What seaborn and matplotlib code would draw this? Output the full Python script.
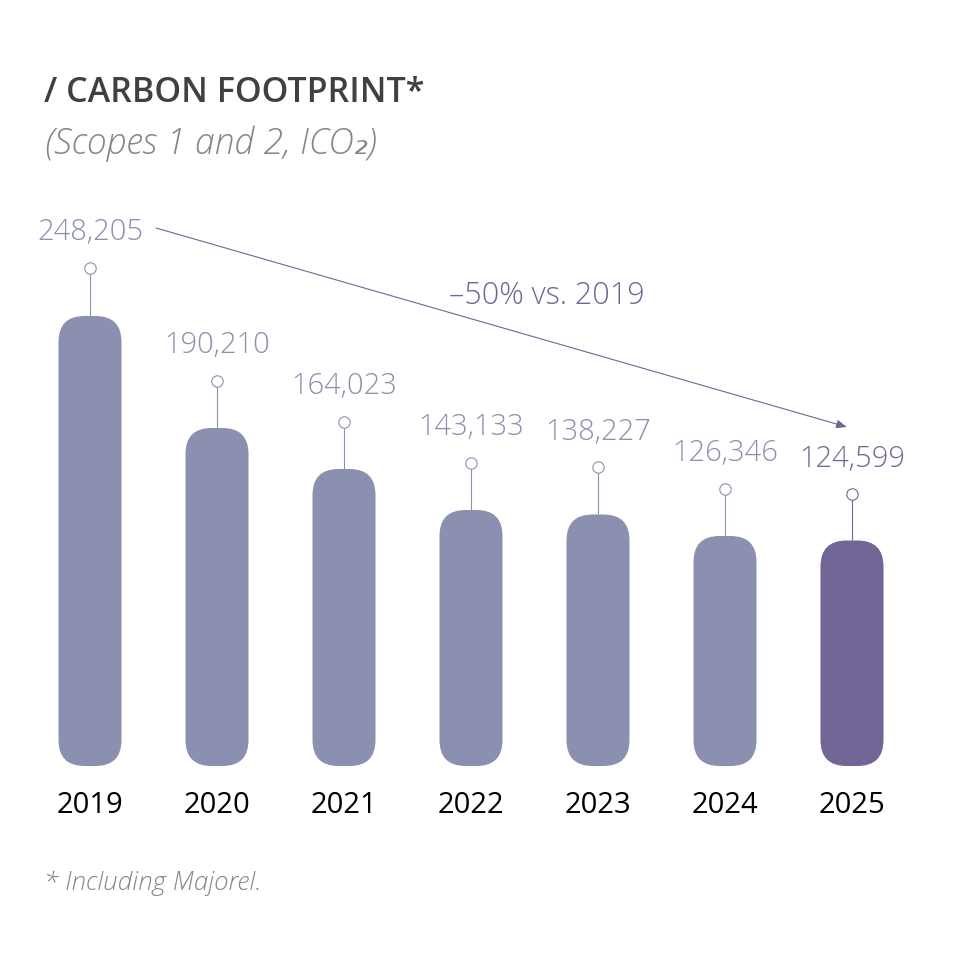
import matplotlib
matplotlib.use("Agg")
import matplotlib.pyplot as plt
import pandas as pd
import seaborn as sns
from matplotlib.patches import FancyBboxPatch

years = ["2019", "2020", "2021", "2022", "2023", "2024", "2025"]
# bar heights (the drawn bars differ slightly from their labels)
bar_heights = [248205, 186430, 163816, 141200, 138720, 126861, 124380]
value_labels = ["248,205", "190,210", "164,023", "143,133", "138,227", "126,346", "124,599"]
stem_px = [48, 47, 47, 47.5, 47, 47, 46]

W, H = 959, 964
BAR = "#8c90b0"
HILITE = "#716696"
GREY = "#868686"
FONT = ["Open Sans", "DejaVu Sans"]
sns.set_theme(style="white")
plt.rcParams["font.family"] = FONT

fig = plt.figure(figsize=(W / 100, H / 100), dpi=100, facecolor="white")
top_px = 200
left, right = 26.5, 915.5
ax = fig.add_axes([left / W, 1 - 766 / H, (right - left) / W, (766 - top_px) / H])
per_px = 248205 / 450
ax_ymax = (766 - top_px) * per_px

df = pd.DataFrame({"year": years, "value": bar_heights})
palette = [BAR] * 6 + [HILITE]
sns.barplot(data=df, x="year", y="value", hue="year", palette=palette, legend=False,
            width=63 / 127, saturation=1, ax=ax)
ax.set_xlim(-0.5, 6.5)
ax.set_ylim(0, ax_ymax)

r = 26 / 127
aspect = per_px * 127
for bar, col in zip(list(ax.patches), palette):
    x, w, h = bar.get_x(), bar.get_width(), bar.get_height()
    bar.remove()
    ax.add_patch(FancyBboxPatch((x + r, r * aspect), w - 2 * r, h - 2 * r * aspect,
                                boxstyle=f"round,pad={r},rounding_size={r}",
                                mutation_aspect=aspect, fc=col, ec="none", zorder=2))

label_gap = 35.5 * per_px
for i, (v, lab, s) in enumerate(zip(bar_heights, value_labels, stem_px)):
    col = HILITE if i == 6 else BAR
    stem = s * per_px
    ax.plot([i, i], [v, v + stem], color=col, lw=0.8, zorder=1, solid_capstyle="butt")
    ax.plot([i], [v + stem], marker="o", ms=8.2, mfc="white", mec=col, mew=0.8, zorder=3, clip_on=False)
    ax.text(i, v + stem + label_gap, lab, ha="center", va="center", fontsize=21,
            fontweight="light", color=col, clip_on=False)

ax.annotate("", xy=(5.96, (766 - 427) * per_px), xytext=(0.52, (766 - 228) * per_px),
            arrowprops=dict(arrowstyle="-|>,head_length=0.45,head_width=0.18", color=HILITE, lw=0.8,
                            shrinkA=0, shrinkB=0, mutation_scale=14), annotation_clip=False)
ax.text(3.6, (766 - 296) * per_px, "–50% vs. 2019", ha="center", va="center", fontsize=22,
        fontweight="light", color=HILITE, clip_on=False)

ax.set_xlabel("")
ax.set_ylabel("")
ax.set_yticks([])
ax.tick_params(axis="x", length=0, pad=18, labelsize=21, labelcolor="black")
sns.despine(ax=ax, left=True, bottom=True, top=True, right=True)
ax.patch.set_alpha(0)

fig.text(44 / W, 1 - 93 / H, "/ CARBON FOOTPRINT*", fontsize=24.5, fontweight="semibold", color="#404040",
         ha="left", va="center")
fig.text(45 / W, 1 - 144 / H, "(Scopes 1 and 2, ICO₂)", fontsize=25.6, style="italic", fontweight="light",
         color=GREY, ha="left", va="center")
fig.text(44 / W, 1 - 883 / H, "* Including Majorel.", fontsize=18.7, style="italic", fontweight="light",
         color=GREY, ha="left", va="center")

fig.savefig("out.png", dpi=100, facecolor="white")
